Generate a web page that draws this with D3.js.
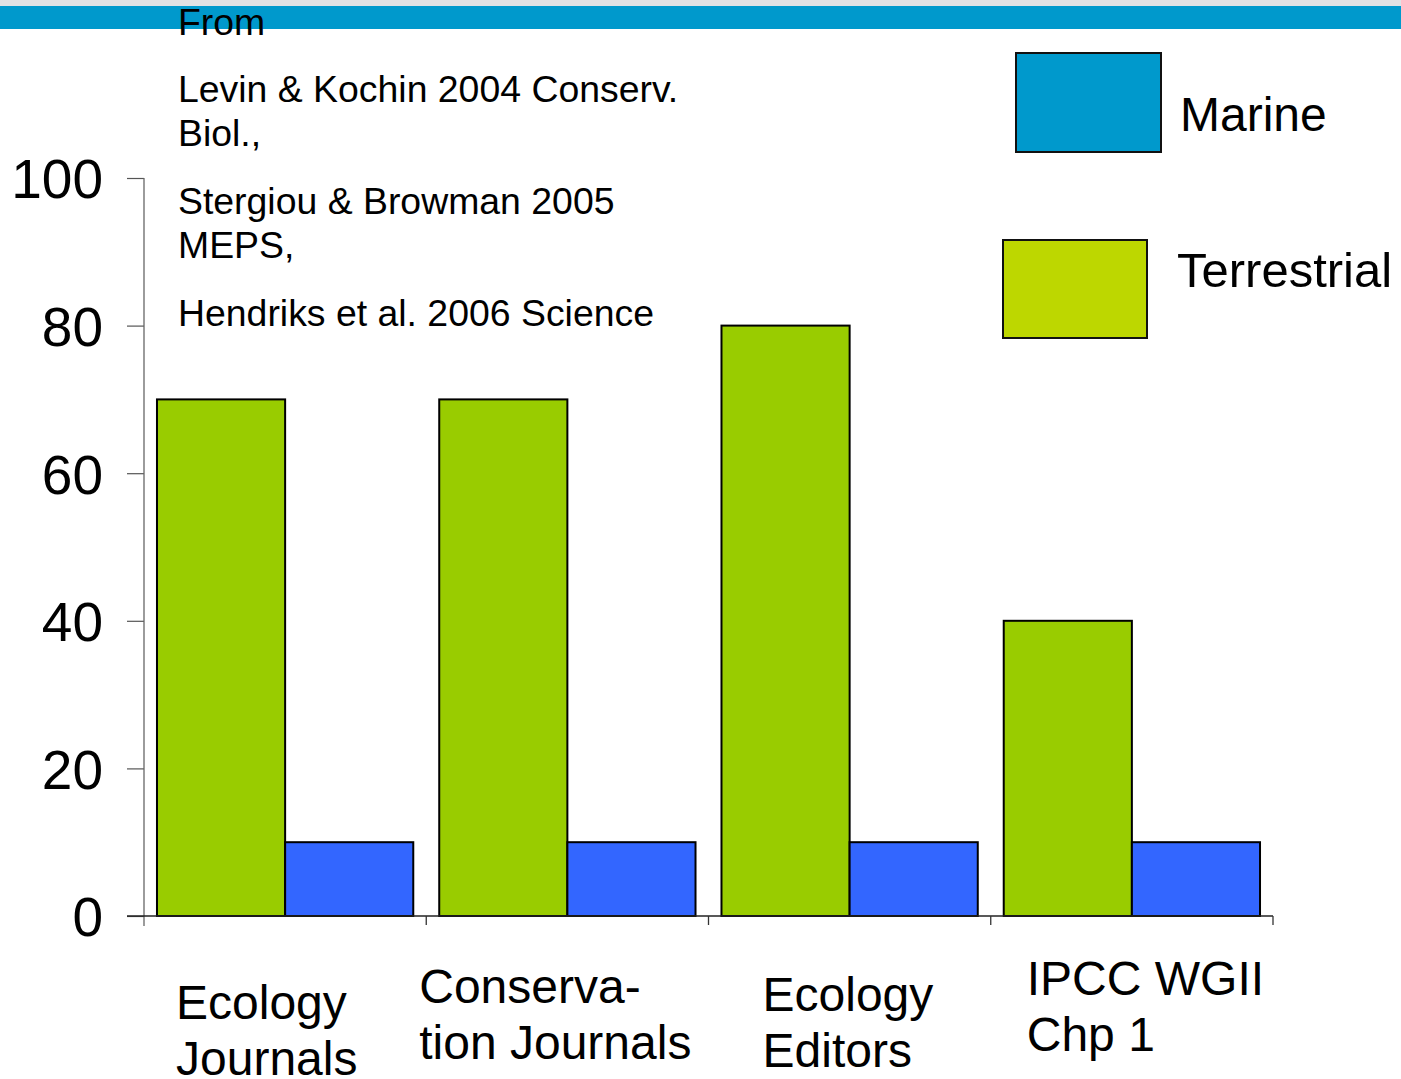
<!DOCTYPE html>
<html>
<head>
<meta charset="utf-8">
<script src="https://cdn.jsdelivr.net/npm/d3@7"></script>
<style>
  html, body { margin: 0; padding: 0; background: #ffffff; }
  svg { display: block; font-family: "Liberation Sans", Arial, sans-serif; }
</style>
</head>
<body>
<svg id="chart" width="1401" height="1079"></svg>
<script>
// ---- Data ----
const categories = ["Ecology Journals", "Conservation Journals", "Ecology Editors", "IPCC WGII Chp 1"];
const categoryLines = [["Ecology", "Journals"], ["Conserva-", "tion Journals"], ["Ecology", "Editors"], ["IPCC WGII", "Chp 1"]];
const terrestrialValues = [70, 70, 80, 40];
const marineValues = [10, 10, 10, 10];
const seriesNames = ["Terrestrial", "Marine"];
const yTicks = [0, 20, 40, 60, 80, 100];
const legendNames = ["Marine", "Terrestrial"];
const notes = [
  ["From"],
  ["Levin & Kochin 2004 Conserv.", "Biol.,"],
  ["Stergiou & Browman 2005", "MEPS,"],
  ["Hendriks et al. 2006 Science"]
];

// ---- Styles ----
const barColors = { "Terrestrial": "#99CC00", "Marine": "#3366FF" };
const legendColors = { "Marine": "#0099CC", "Terrestrial": "#BDD700" };

const svg = d3.select("#chart");

// top banner
svg.append("rect").attr("x", 0).attr("y", 0).attr("width", 1401).attr("height", 6).attr("fill", "#E1E2E4");
svg.append("rect").attr("x", 0).attr("y", 6).attr("width", 1401).attr("height", 23).attr("fill", "#0099CC");

// scales
const x0 = d3.scaleBand().domain(categories).range([144, 1273]).paddingInner(0.092).paddingOuter(0.046);
const x1 = d3.scaleBand().domain(seriesNames).range([0, x0.bandwidth()]).padding(0);
const y = d3.scaleLinear().domain([0, 100]).range([916, 178]);

const data = categories.map((c, i) => ({ cat: c, Terrestrial: terrestrialValues[i], Marine: marineValues[i] }));

// bars
const g = svg.append("g");
g.selectAll("g.grp").data(data).join("g")
  .attr("class", "grp")
  .attr("transform", d => `translate(${x0(d.cat)},0)`)
  .selectAll("rect").data(d => seriesNames.map(s => ({ s, v: d[s] }))).join("rect")
  .attr("x", d => x1(d.s))
  .attr("y", d => y(d.v))
  .attr("width", x1.bandwidth())
  .attr("height", d => y(0) - y(d.v))
  .attr("fill", d => barColors[d.s])
  .attr("stroke", "#000")
  .attr("stroke-width", 2);

// y axis
const yAxis = svg.append("g").attr("transform", "translate(144,0)")
  .call(d3.axisLeft(y).tickValues(yTicks).tickSize(17).tickSizeOuter(0).tickFormat(d3.format("d")));
yAxis.select(".domain").remove();
yAxis.selectAll(".tick line").attr("stroke", "#555").attr("stroke-width", 1.2);
yAxis.selectAll(".tick text").attr("font-size", 55).attr("fill", "#000")
  .attr("x", -41).attr("dy", "0.36em").attr("font-family", "Liberation Sans, Arial, sans-serif");
svg.append("line").attr("x1", 144).attr("x2", 144).attr("y1", y(100)).attr("y2", 926)
  .attr("stroke", "#666").attr("stroke-width", 1.3);

// x axis
const xAxisG = svg.append("g").attr("transform", `translate(0,${y(0)})`);
xAxisG.append("line").attr("x1", 127).attr("x2", 1273).attr("y1", 0).attr("y2", 0)
  .attr("stroke", "#222").attr("stroke-width", 1.3);
const boundaries = categories.map(c => x0(c) - x0.step() * x0.paddingOuter()).concat([x0.range()[1]]);
xAxisG.selectAll("line.xt").data(boundaries.slice(1)).join("line")
  .attr("class", "xt")
  .attr("x1", d => d).attr("x2", d => d).attr("y1", 0).attr("y2", 9)
  .attr("stroke", "#333").attr("stroke-width", 1.3);

// category labels
const labelPos = [
  { dx: 32, base: 1019 },
  { dx: -7, base: 1003 },
  { dx: 54, base: 1011 },
  { dx: 36, base: 995 }
];
categories.forEach((c, i) => {
  const t = svg.append("text").attr("font-size", 48).attr("fill", "#000");
  categoryLines[i].forEach((ln, j) => {
    t.append("tspan").attr("x", x0(c) - x0.step() * x0.paddingOuter() + labelPos[i].dx)
      .attr("y", labelPos[i].base + j * 56).text(ln);
  });
});

// notes
const noteBase = [35, 102, 214, 326];
notes.forEach((lines, i) => {
  lines.forEach((ln, j) => {
    svg.append("text").attr("x", 178).attr("y", noteBase[i] + j * 44)
      .attr("font-size", 37.4).attr("fill", "#000").text(ln);
  });
});

// legend
const legendBoxes = [
  { x: 1016, y: 53, w: 145, h: 99, tx: 1180, ty: 131, fs: 48 },
  { x: 1003, y: 240, w: 144, h: 98, tx: 1177, ty: 287, fs: 49 }
];
legendNames.forEach((n, i) => {
  const b = legendBoxes[i];
  svg.append("rect").attr("x", b.x).attr("y", b.y).attr("width", b.w).attr("height", b.h)
    .attr("fill", legendColors[n]).attr("stroke", "#111").attr("stroke-width", 2);
  svg.append("text").attr("x", b.tx).attr("y", b.ty).attr("font-size", b.fs).attr("fill", "#000").text(n);
});
</script>
</body>
</html>
